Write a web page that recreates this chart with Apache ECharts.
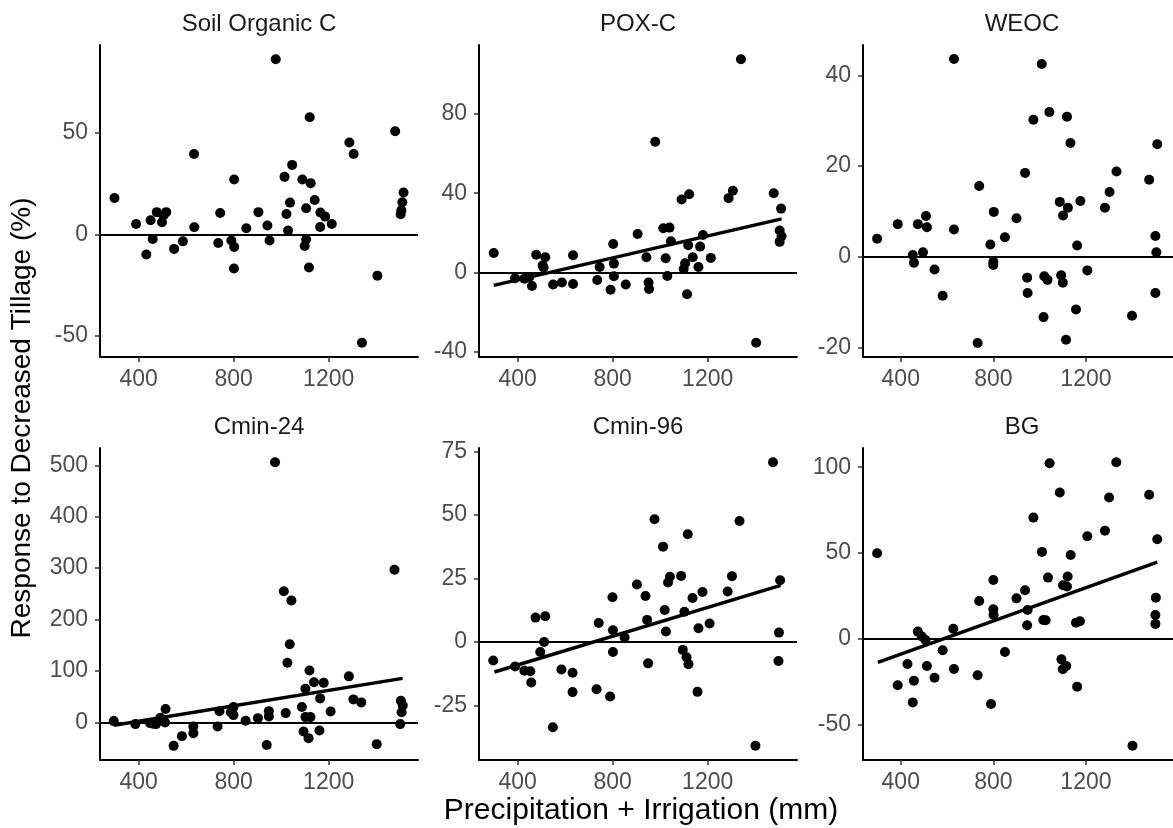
<!DOCTYPE html>
<html>
<head>
<meta charset="utf-8">
<script src="https://cdn.jsdelivr.net/npm/echarts@6/dist/echarts.min.js"></script>
<style>
html,body{margin:0;padding:0;background:#fff;}
#chart{width:1173px;height:828px;}
</style>
</head>
<body>
<div id="chart"></div>
<script>
// ---- data ----
const panelTitles = ["Soil Organic C", "POX-C", "WEOC", "Cmin-24", "Cmin-96", "BG"];
const xTickValues = [400, 800, 1200];
const xRange = [237, 1576];

const socX = [298,389,432,450,459,476,498,516,505,549,586,633,634,735,743,790,802,802,801,853,904,942,951,977,1014,1022,1029,1037,1046,1089,1099,1105,1105,1117,1120,1124,1141,1164,1165,1185,1213,1287,1305,1340,1405,1480,1515,1510,1506,1503];
const socY = [17.9,5.1,-10,6.9,-2.3,10.9,5.9,10.9,9.4,-7.2,-3.5,39.6,3.5,-4.3,10.5,-3.1,-6.3,27,-16.9,3,10.9,4.3,-3.1,86.3,28.3,10,1.8,15.6,34.2,27,-5.8,-2.6,12.8,-16.4,57.7,25.2,16.9,3.6,10.7,8.7,5.1,45.2,39.6,-53.5,-20.4,50.8,20.6,15.8,11.8,9.9];

const poxX = [299,389,428,449,460,478,516,509,505,549,586,633,633,735,745,791,802,805,805,855,905,942,951,953,979,1013,1023,1030,1039,1045,1090,1099,1105,1113,1122,1118,1137,1161,1168,1180,1213,1288,1306,1340,1404,1478,1509,1503,1511,1503];
const poxY = [9.8,-3,-3.2,-2.4,-6.9,8.9,7.6,2.4,3.5,-6.2,-5.1,8.6,-5.9,-3.9,2.7,-8.8,14.3,4.4,-2,-6.2,19.4,7.6,-5.1,-8.4,66,22.3,7.1,-1.9,22.6,15.7,36.8,1.7,4.6,-11.1,39.5,13.7,7.6,2.7,13,18.9,7.3,37.5,41.2,107.7,-35.6,40,32.2,21.1,18.2,15.4];

const weocX = [298,387,474,452,457,496,509,513,546,581,630,630,732,739,787,800,802,800,850,900,937,946,948,973,1009,1017,1020,1034,1042,1087,1093,1100,1101,1118,1114,1122,1133,1157,1162,1176,1206,1282,1302,1332,1399,1473,1508,1500,1504,1500];
const weocY = [4,7.2,7.2,0.4,-1.3,1,9,6.5,-2.8,-8.6,43.6,6,-19,15.6,2.7,-1.1,9.9,-1.8,4.3,8.5,18.5,-4.6,-8,30.2,42.5,-13.3,-4.3,-5.1,31.9,12.1,-4.1,-5.7,9.1,30.9,-18.3,10.8,25.1,-11.6,2.5,12.3,-3,10.8,14.3,18.8,-13,17,24.8,4.6,1,-8];

const cmin24X = [295,386,448,460,473,491,505,513,511,547,582,630,630,732,740,788,799,799,850,902,939,948,948,974,1011,1019,1026,1036,1043,1087,1094,1102,1102,1115,1119,1123,1138,1161,1164,1179,1208,1285,1304,1337,1402,1477,1504,1512,1507,1501];
const cmin24Y = [2.6,-3.2,-1.3,-2.6,-3.2,9.1,3.9,26,0,-45.5,-26.6,-20.8,-7.8,-7.8,22,20,30,14.3,3.2,8.4,-44,22,11.7,506,255,18.2,116,152,237,30,-17.5,65.6,10.4,-30.5,101,10.4,78,-15.6,46.8,77,21.4,89.6,44.8,39,-42.2,297,42.2,33,20,-3.2];

const cmin96X = [297,389,428,453,457,475,495,511,516,548,584,631,631,732,741,789,799,801,801,850,902,938,945,949,976,1012,1019,1024,1033,1041,1088,1095,1102,1111,1116,1119,1136,1157,1161,1178,1208,1284,1302,1334,1401,1475,1505,1500,1498];
const cmin96Y = [-7.3,-9.6,-11.3,-11.5,-15.9,9.6,-3.9,0,10.1,-33.5,-10.8,-12.1,-19.7,-18.6,7.5,-21.4,17.6,4.6,-3.9,1.8,22.6,18.1,8.7,-8.4,48.3,37.5,12.6,4.1,23.4,25.7,26,-3.1,11.9,-6,42.4,-8.7,17.3,-19.6,5.4,19.7,7.3,19.9,25.9,47.6,-40.8,70.7,24.3,3.7,-7.5];

const bgX = [298,387,429,452,457,474,491,507,513,546,581,627,630,732,739,790,800,800,801,850,900,937,948,946,973,1010,1016,1026,1036,1043,1087,1094,1100,1115,1101,1118,1121,1134,1157,1162,1174,1206,1282,1300,1331,1401,1473,1508,1502,1500,1500];
const bgY = [49.8,-27.2,-14.8,-37.2,-24.5,4.1,1.2,-0.8,-16,-22.8,-6.8,5.8,-17.7,-21.4,22,-38.1,34.2,17.1,13.8,-7.8,23.5,28.2,16.7,7.8,70.6,50.6,10.9,10.7,35.6,102.3,85.2,-12.1,-17.9,-16,31.1,30.4,36.2,48.8,9.3,-28,10.1,59.7,63,82.3,102.9,-62.5,83.9,58,23.9,13.8,8.6];

// fitted-line endpoints (x, y); null = no fit drawn
const fitSOC = null;
const fitPOX = [[299, -6.6], [1511, 27.0]];
const fitWEOC = null;
const fitCmin24 = [[296, -5.5], [1511, 85.7]];
const fitCmin96 = [[302, -11.8], [1507, 22.3]];
const fitBG = [[301, -13.8], [1508, 44.6]];

// y ranges and tick labels per panel
const yRanges = [[-60.5, 93.3], [-42.8, 114.9], [-22.1, 46.7], [-73, 533.6], [-46.4, 76.3], [-70.8, 111.2]];
const yTicks = [[-50, 0, 50], [-40, 0, 40, 80], [-20, 0, 20, 40], [0, 100, 200, 300, 400, 500], [-25, 0, 25, 50, 75], [-50, 0, 50, 100]];

const xTitle = "Precipitation + Irrigation (mm)";
const yTitle = "Response to Decreased Tillage (%)";

// ---- layout ----
const pxs = [socX, poxX, weocX, cmin24X, cmin96X, bgX];
const pys = [socY, poxY, weocY, cmin24Y, cmin96Y, bgY];
const fits = [fitSOC, fitPOX, fitWEOC, fitCmin24, fitCmin96, fitBG];
const colLeft = [100, 479, 863];
const rowTop = [45, 448];
const W = 318, H = 312;
const FONT = "Liberation Sans, Arial, sans-serif";
const plain = v => String(v);

const grids = [], xAxes = [], yAxes = [], series = [], graphics = [];
for (let i = 0; i < 6; i++) {
  const c = i % 3, r = Math.floor(i / 3);
  grids.push({left: colLeft[c], top: rowTop[r], width: W, height: H, containLabel: false});
  xAxes.push({
    type: 'value', gridIndex: i, min: xRange[0], max: xRange[1],
    axisLine: {show: true, onZero: false, lineStyle: {color: '#000', width: 2}},
    axisTick: {show: true, length: 5, lineStyle: {color: '#333', width: 1.5}, customValues: xTickValues},
    axisLabel: {show: true, color: '#4d4d4d', fontSize: 23, fontFamily: FONT, margin: 11, formatter: plain, customValues: xTickValues},
    splitLine: {show: false}
  });
  yAxes.push({
    type: 'value', gridIndex: i, min: yRanges[i][0], max: yRanges[i][1],
    axisLine: {show: true, onZero: false, lineStyle: {color: '#000', width: 2}},
    axisTick: {show: true, length: 5, lineStyle: {color: '#333', width: 1.5}, customValues: yTicks[i]},
    axisLabel: {show: true, color: '#4d4d4d', fontSize: 23, fontFamily: FONT, margin: 12, formatter: plain, customValues: yTicks[i]},
    splitLine: {show: false}
  });
  const pts = pxs[i].map((x, k) => [x, pys[i][k]]);
  series.push({
    type: 'scatter', xAxisIndex: i, yAxisIndex: i, data: pts,
    symbolSize: 10, itemStyle: {color: '#000', opacity: 1},
    silent: true, z: 3,
    markLine: {
      silent: true, symbol: ['none', 'none'], label: {show: false},
      lineStyle: {color: '#000', width: 2, type: 'solid'},
      data: [{yAxis: 0}], animation: false
    }
  });
  if (fits[i]) {
    series.push({
      type: 'line', xAxisIndex: i, yAxisIndex: i, data: fits[i],
      showSymbol: false, symbol: 'none', lineStyle: {color: '#000', width: 3.5}, silent: true, z: 4
    });
  }
  graphics.push({
    type: 'text', x: colLeft[c] + W / 2, y: rowTop[r] - 21,
    style: {text: panelTitles[i], fill: '#1a1a1a', font: '24px ' + FONT, textAlign: 'center', textVerticalAlign: 'middle'}
  });
}
graphics.push({
  type: 'text', x: 641, y: 811,
  style: {text: xTitle, fill: '#000', font: '30px ' + FONT, textAlign: 'center', textVerticalAlign: 'middle'}
});
graphics.push({
  type: 'text', x: 22, y: 418, rotation: Math.PI / 2,
  style: {text: yTitle, fill: '#000', font: '28px ' + FONT, textAlign: 'center', textVerticalAlign: 'middle'}
});

const chart = echarts.init(document.getElementById('chart'), null, {renderer: 'canvas'});
chart.setOption({
  animation: false,
  backgroundColor: '#fff',
  grid: grids, xAxis: xAxes, yAxis: yAxes, series: series, graphic: graphics
});
</script>
</body>
</html>
